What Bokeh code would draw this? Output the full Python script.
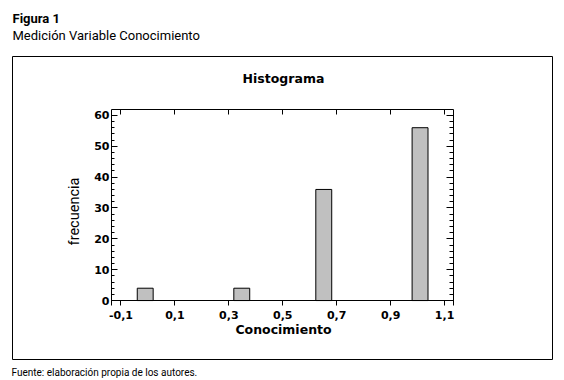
import math
from bokeh.plotting import figure
from bokeh.models import (Range1d, LinearAxis, Label, BoxAnnotation,
                          SingleIntervalTicker, FixedTicker, CustomJSTickFormatter)
from bokeh.embed import file_html
from bokeh.resources import INLINE

# ---- data ----
bin_centers = [-0.010, 0.348, 0.652, 1.009]
counts = [4, 4, 36, 56]
bin_width = 0.059
x_ticks = [-0.1, 0.1, 0.3, 0.5, 0.7, 0.9, 1.1]
x_tick_labels = ["-0,1", "0,1", "0,3", "0,5", "0,7", "0,9", "1,1"]
y_interval = 10

fig_label = "Figura 1"
subtitle = "Medición Variable Conocimiento"
chart_title = "Histograma"
x_label = "Conocimiento"
y_label = "frecuencia"
source_note = "Fuente: elaboración propia de los autores."

NARROW = "Roboto"
WIDE = "DejaVu Sans"

# ---- layout constants (pixels) ----
W, H = 564, 380
FL, FR, FT, FB = 111, 453, 109, 305      # inner plot box edges
XR = (-0.135, 1.133)                     # data extent of inner plot box
YR = (-1.6, 61.9)


def dx(px):
    return XR[0] + (px - FL) * (XR[1] - XR[0]) / (FR - FL)


def dy(py):
    return YR[0] + (FB - py) * (YR[1] - YR[0]) / (FB - FT)


p = figure(width=W, height=H, output_backend="svg", toolbar_location=None,
           x_range=Range1d(dx(0), dx(W)), y_range=Range1d(dy(H), dy(0)),
           min_border=0, x_axis_location=None, y_axis_location=None)
p.grid.visible = False
p.outline_line_color = None
p.background_fill_color = "white"
p.border_fill_color = "white"

# bars
p.vbar(x=bin_centers, top=counts, bottom=0, width=bin_width,
       fill_color="#c0c0c0", line_color="black", line_width=1)

xlabels = dict(zip(x_ticks, x_tick_labels))

# bottom axis (at y = 0)
xb = LinearAxis(ticker=FixedTicker(ticks=x_ticks), major_label_overrides=xlabels,
                fixed_location=0, bounds=XR)
xb.axis_line_color = "black"
xb.major_tick_in = 0
xb.major_tick_out = 5
xb.minor_tick_line_color = None
xb.major_label_standoff = 5
xb.major_label_text_font = WIDE
xb.major_label_text_font_style = "bold"
xb.major_label_text_font_size = "11px"
xb.major_label_text_color = "black"
p.add_layout(xb, "below")

# top axis (ticks only)
xt = LinearAxis(ticker=FixedTicker(ticks=x_ticks), fixed_location=YR[1], bounds=XR,
                formatter=CustomJSTickFormatter(code="return ''"))
xt.major_tick_in = 5
xt.major_tick_out = 0
xt.minor_tick_line_color = None
p.add_layout(xt, "above")

# left axis
yl = LinearAxis(ticker=SingleIntervalTicker(interval=y_interval, num_minor_ticks=5),
                fixed_location=XR[0], bounds=YR)
yl.major_tick_in = 6
yl.major_tick_out = 0
yl.minor_tick_in = 3
yl.minor_tick_out = 0
yl.major_label_standoff = 2
yl.major_label_text_font = WIDE
yl.major_label_text_font_style = "bold"
yl.major_label_text_font_size = "11px"
yl.major_label_text_color = "black"
p.add_layout(yl, "left")

# right axis (ticks only)
yr = LinearAxis(ticker=SingleIntervalTicker(interval=y_interval, num_minor_ticks=5),
                fixed_location=XR[1], bounds=YR,
                formatter=CustomJSTickFormatter(code="return ''"))
yr.major_tick_in = 7
yr.major_tick_out = 0
yr.minor_tick_in = 4
yr.minor_tick_out = 0
p.add_layout(yr, "right")

# outer box
p.add_layout(BoxAnnotation(left=dx(12), right=dx(552), bottom=dy(359), top=dy(56),
                           fill_alpha=0, line_color="black", line_alpha=1,
                           line_width=1))

# texts
TXT = dict(text_color="black", text_baseline="alphabetic")
p.add_layout(Label(x=dx(12), y=dy(17.5), text=fig_label,
                   text_font=NARROW, text_font_style="bold", text_font_size="13px",
                   **TXT))
p.add_layout(Label(x=dx(12), y=dy(34.5), text=subtitle,
                   text_font=NARROW, text_font_size="13px", **TXT))
p.add_layout(Label(x=dx(283), y=dy(78), text=chart_title,
                   text_font=WIDE, text_font_style="bold", text_font_size="12.5px",
                   text_align="center", **TXT))
p.add_layout(Label(x=dx(283), y=dy(329), text=x_label,
                   text_font=WIDE, text_font_style="bold", text_font_size="12.5px",
                   text_align="center", **TXT))
p.add_layout(Label(x=dx(74), y=dy(211), text=y_label, angle=math.pi / 2,
                   text_font=NARROW, text_font_size="14.5px",
                   text_align="center", **TXT))
p.add_layout(Label(x=dx(11), y=dy(372), text=source_note,
                   text_font=NARROW, text_font_size="10px", **TXT))

open("out.html", "w").write(file_html(p, INLINE))
